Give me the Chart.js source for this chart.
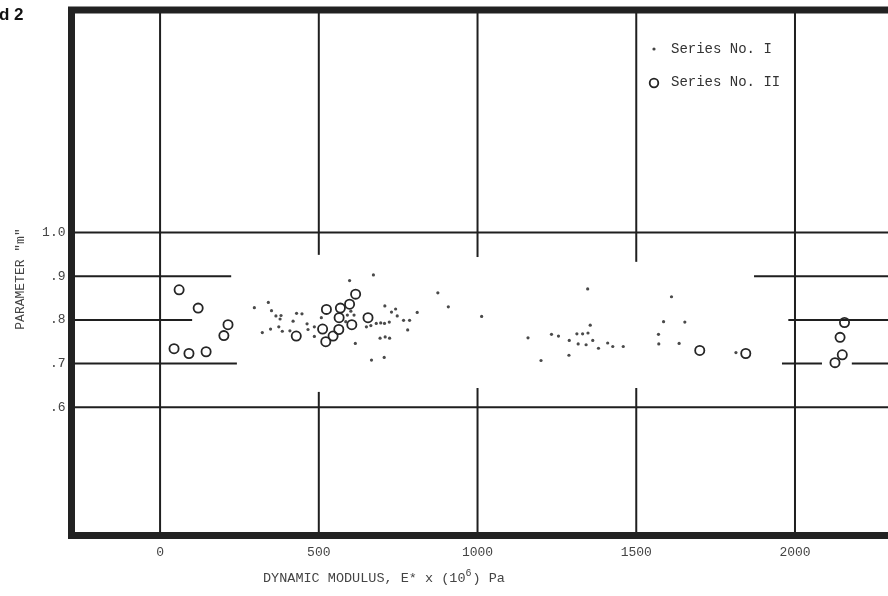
<!DOCTYPE html>
<html><head><meta charset="utf-8">
<script src="https://cdn.jsdelivr.net/npm/chart.js@4"></script>
<style>html,body{margin:0;padding:0;background:#fff;overflow:hidden}</style>
</head><body>
<canvas id="c" width="888" height="596"></canvas>
<script>
// ---- data ----
const xTicks = [0, 500, 1000, 1500, 2000];
const yTicks = [0.6, 0.7, 0.8, 0.9, 1.0];
const yTickLabels = ['.6', '.7', '.8', '.9', '1.0'];
const seriesIName = 'Series No. I';
const seriesIIName = 'Series No. II';
const xTitle = ['DYNAMIC MODULUS, E* x (10', '6', ') Pa'];
const yTitle = 'PARAMETER "m"';
const cornerText = 'd 2';

const seriesI = [
 [297,0.828],[341,0.840],[322,0.771],[348,0.779],[351,0.821],[365,0.809],[381,0.810],[378,0.802],
 [374,0.784],[385,0.774],[409,0.775],[430,0.815],[447,0.814],[419,0.797],[463,0.791],[466,0.778],
 [486,0.784],[486,0.762],[508,0.805],[585,0.796],[597,0.890],[672,0.903],[708,0.832],[729,0.818],
 [742,0.825],[747,0.809],[707,0.792],[722,0.795],[695,0.793],[681,0.792],[664,0.787],[650,0.784],
 [767,0.799],[786,0.799],[810,0.817],[780,0.777],[693,0.758],[709,0.761],[723,0.758],[666,0.708],
 [706,0.714],[615,0.746],[601,0.820],[611,0.811],[590,0.811],[875,0.862],[908,0.830],[1013,0.808],
 [1159,0.759],[1200,0.707],[1233,0.767],[1255,0.763],[1289,0.753],[1288,0.719],[1313,0.768],
 [1331,0.768],[1348,0.770],[1355,0.788],[1347,0.871],[1363,0.753],[1317,0.745],[1342,0.743],
 [1381,0.735],[1410,0.747],[1426,0.739],[1459,0.739],[1611,0.853],[1586,0.796],[1653,0.795],
 [1570,0.767],[1571,0.745],[1635,0.746],[1814,0.725]
];
const seriesII = [
 [60,0.869],[120,0.827],[214,0.789],[201,0.764],[44,0.734],[91,0.723],[145,0.727],
 [429,0.763],[524,0.824],[568,0.827],[597,0.836],[616,0.859],[564,0.805],[512,0.779],
 [563,0.778],[604,0.789],[545,0.763],[522,0.750],[655,0.805],
 [1700,0.730],[1845,0.723],[2156,0.794],[2142,0.760],[2149,0.720],[2126,0.702]
];
// grid segments in data units (null = plot edge)
const hGrid = [
 {y:1.0, segs:[[null,null]]},
 {y:0.9, segs:[[null,224],[1871,null]]},
 {y:0.8, segs:[[null,101],[1979,null]]},
 {y:0.7, segs:[[null,242],[1959,2085],[2179,null]]},
 {y:0.6, segs:[[null,null]]}
];
const vGrid = [
 {x:0, segs:[[null,null]]},
 {x:500, segs:[[null,0.635],[0.949,null]]},
 {x:1000, segs:[[null,0.644],[0.944,null]]},
 {x:1500, segs:[[null,0.644],[0.933,null]]},
 {x:2000, segs:[[null,null]]}
];
const X_MIN = -279, X_MAX = 2293, Y_MIN = 0.306, Y_MAX = 1.51;

// ---- drawing ----
const INK = '#1f1f1f';
const FONT = '"Liberation Mono", "DejaVu Sans Mono", monospace';

const framePlugin = {
  id: 'frame',
  beforeDatasetsDraw(chart) {
    const {ctx, chartArea: a, scales: {x, y}} = chart;
    ctx.save();
    ctx.strokeStyle = INK;
    ctx.lineWidth = 2;
    ctx.lineCap = 'butt';
    hGrid.forEach(g => {
      const py = y.getPixelForValue(g.y);
      g.segs.forEach(([s, e]) => {
        const x0 = s === null ? a.left : x.getPixelForValue(s);
        const x1 = e === null ? a.right : x.getPixelForValue(e);
        ctx.beginPath(); ctx.moveTo(x0, py); ctx.lineTo(x1, py); ctx.stroke();
      });
    });
    vGrid.forEach(g => {
      const px = x.getPixelForValue(g.x);
      g.segs.forEach(([s, e]) => {
        const y0 = s === null ? a.bottom : y.getPixelForValue(s);
        const y1 = e === null ? a.top : y.getPixelForValue(e);
        ctx.beginPath(); ctx.moveTo(px, y0); ctx.lineTo(px, y1); ctx.stroke();
      });
    });
    // heavy frame (left, top, bottom)
    ctx.lineWidth = 7;
    ctx.strokeStyle = '#222';
    ctx.lineJoin = 'miter';
    ctx.beginPath();
    ctx.moveTo(a.right + 4, a.top); ctx.lineTo(a.left, a.top);
    ctx.lineTo(a.left, a.bottom); ctx.lineTo(a.right + 4, a.bottom);
    ctx.stroke();
    ctx.restore();
  },
  afterDraw(chart) {
    const {ctx} = chart;
    ctx.save();
    // legend
    ctx.font = '14px ' + FONT;
    ctx.textBaseline = 'middle';
    ctx.textAlign = 'left';
    ctx.beginPath(); ctx.arc(654, 49, 1.6, 0, Math.PI * 2); ctx.fillStyle = '#444'; ctx.fill();
    ctx.fillStyle = '#333';
    ctx.fillText(seriesIName, 671, 49);
    ctx.beginPath(); ctx.arc(654, 83, 4.3, 0, Math.PI * 2);
    ctx.strokeStyle = '#222'; ctx.lineWidth = 1.8; ctx.stroke();
    ctx.fillText(seriesIIName, 671, 82);
    // x title
    ctx.font = '13.5px ' + FONT;
    ctx.fillStyle = '#444';
    ctx.textBaseline = 'alphabetic';
    let tx = 263;
    const ty = 582;
    ctx.fillText(xTitle[0], tx, ty);
    tx += ctx.measureText(xTitle[0]).width;
    ctx.font = '10px ' + FONT;
    ctx.fillText(xTitle[1], tx, ty - 6);
    tx += ctx.measureText(xTitle[1]).width + 1;
    ctx.font = '13.5px ' + FONT;
    ctx.fillText(xTitle[2], tx, ty);
    // y title
    ctx.save();
    ctx.translate(21, 279);
    ctx.rotate(-Math.PI / 2);
    ctx.textAlign = 'center';
    ctx.textBaseline = 'middle';
    ctx.font = '13px ' + FONT;
    ctx.fillText(yTitle, 0, 0);
    ctx.restore();
    // corner label
    ctx.fillStyle = '#111';
    ctx.font = 'bold 17px "Liberation Sans", Arial, sans-serif';
    ctx.textAlign = 'left';
    ctx.textBaseline = 'alphabetic';
    ctx.fillText(cornerText, -1, 20);
    ctx.restore();
  }
};

const noPad = s => { s.paddingTop = 0; s.paddingBottom = 0; s.paddingLeft = 0; s.paddingRight = 0; };

new Chart(document.getElementById('c'), {
  type: 'scatter',
  data: {
    datasets: [
      {label: seriesIName, data: seriesI.map(([x, y]) => ({x, y})),
       pointRadius: 1.6, pointHoverRadius: 1.6, backgroundColor: '#4a4a4a', borderWidth: 0},
      {label: seriesIIName, data: seriesII.map(([x, y]) => ({x, y})),
       pointRadius: 4.6, pointHoverRadius: 4.6, backgroundColor: 'rgba(0,0,0,0)',
       borderColor: '#262626', borderWidth: 1.8}
    ]
  },
  options: {
    responsive: false, animation: false, devicePixelRatio: 1,
    layout: {autoPadding: false, padding: {top: 10, right: 0, left: 0, bottom: 0}},
    plugins: {legend: {display: false}, tooltip: {enabled: false}},
    scales: {
      x: {
        type: 'linear', min: X_MIN, max: X_MAX,
        afterBuildTicks: s => { s.ticks = xTicks.map(v => ({value: v})); },
        afterFit: s => { s.height = 60.5; noPad(s); },
        grid: {display: false, drawTicks: false}, border: {display: false},
        ticks: {font: {family: FONT, size: 13}, color: '#444', padding: 9,
                maxRotation: 0, autoSkip: false, callback: v => String(v)}
      },
      y: {
        type: 'linear', min: Y_MIN, max: Y_MAX,
        afterBuildTicks: s => { s.ticks = yTicks.map(v => ({value: v})); },
        afterFit: s => { s.width = 71.5; noPad(s); },
        grid: {display: false, drawTicks: false}, border: {display: false},
        ticks: {font: {family: FONT, size: 13}, color: '#444', padding: 6,
                autoSkip: false,
                callback: v => { const i = yTicks.findIndex(t => Math.abs(t - v) < 1e-6); return i >= 0 ? yTickLabels[i] : ''; }}
      }
    }
  },
  plugins: [framePlugin]
});
</script>
</body></html>
